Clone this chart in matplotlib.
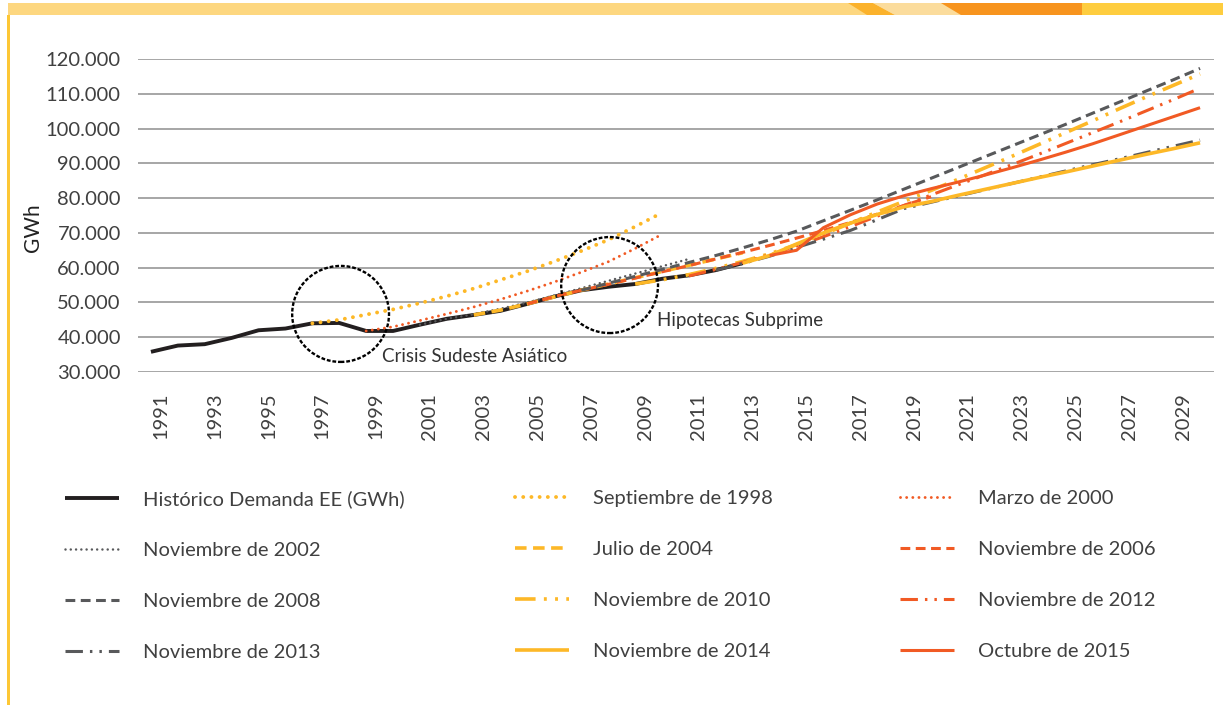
import numpy as np
import matplotlib.pyplot as plt
import matplotlib.transforms as mtransforms
from matplotlib.patches import Ellipse, Polygon, Rectangle

plt.rcParams['font.family'] = ['Lato', 'DejaVu Sans']

# datos (GWh) - cada serie con su año de inicio
historico_ini = 1991
historico = [35800, 37600, 38000, 39800, 42000, 42500, 44000, 44100, 41800, 41800,
             43600, 45300, 46400, 47600, 49600, 51700, 53500, 54500, 55300, 56800,
             57800, 59300, 61300]

sep1998_ini = 1997
sep1998 = [44000, 45000, 46500, 48000, 49800, 51800, 54000, 56500, 59000, 61800,
           64800, 68000, 71800, 75800]

mar2000_ini = 1999
mar2000 = [41800, 43000, 44800, 46700, 48700, 50900, 53300, 55900, 58700, 61700,
           65500, 69600]

nov2002_ini = 2001
nov2002 = [43600, 45300, 46600, 48200, 50000, 52000, 54100, 56200, 58300, 60400, 62500]

jul2004_ini = 2003
jul2004 = [46400, 47800, 49600, 51600, 53500, 55300, 57100, 58900, 60700, 62500, 64300]

nov2006_ini = 2005
nov2006 = [49600, 51700, 53500, 55200, 57000, 58800, 60600, 62500, 64400, 66400,
           68500, 70700, 73000, 75400, 77900, 80400]

nov2008_ini = 2007
nov2008 = [53500, 55500, 57500, 59500, 61500, 63500, 65700, 68000, 70500, 73500,
           76500, 79500, 82600, 85700, 88800, 91900, 95000, 98100, 101200, 104400,
           107600, 110800, 114000, 117300]

nov2010_ini = 2009
nov2010 = [55300, 56500, 58000, 59800, 61800, 64000, 66600, 69600, 72800, 76000,
           79100, 82200, 85400, 88700, 92000, 95400, 98800, 102200, 105700, 109100,
           112400, 115700]

nov2012_ini = 2011
nov2012 = [57600, 59500, 61500, 63700, 66200, 68900, 71800, 74800, 77900, 80900,
           83800, 86700, 89600, 92600, 95700, 98800, 101900, 105100, 108300, 111600]

nov2013_ini = 2012
nov2013 = [59300, 61200, 63300, 65800, 68200, 70700, 73800, 77000, 78800, 80600,
           82400, 84200, 86000, 87800, 89600, 91300, 93100, 94900, 96700]

nov2014_ini = 2013
nov2014 = [61300, 63500, 66800, 70000, 72800, 75300, 77500, 79000, 80800, 82500,
           84200, 85900, 87500, 89200, 90900, 92600, 94200, 95900]

oct2015_ini = 2014
oct2015 = [63500, 65000, 71500, 75200, 78300, 80700, 82700, 84600, 86600, 88700,
           90900, 93200, 95600, 98200, 100800, 103400, 106000]

anios_etiqueta = list(range(1991, 2030, 2))
y_ticks = [30000, 40000, 50000, 60000, 70000, 80000, 90000, 100000, 110000, 120000]

NEGRO = '#231f20'
GRIS = '#58595b'
AMARILLO = '#fdb827'
NARANJA = '#f15a24'
TEXTO = '#404040'

punto = (0, (0.01, 2.1))
guion = (0, (3.2, 1.8))
raya_pp = (0, (5.7, 2.3, 0.8, 2.3, 0.8, 2.3))

series = [
    ('Histórico Demanda EE (GWh)', historico_ini, historico, NEGRO, '-', 2.8),
    ('Septiembre de 1998', sep1998_ini, sep1998, AMARILLO, punto, 2.8),
    ('Marzo de 2000', mar2000_ini, mar2000, NARANJA, punto, 2.1),
    ('Noviembre de 2002', nov2002_ini, nov2002, GRIS, punto, 1.8),
    ('Julio de 2004', jul2004_ini, jul2004, AMARILLO, guion, 2.6),
    ('Noviembre de 2006', nov2006_ini, nov2006, NARANJA, guion, 2.2),
    ('Noviembre de 2008', nov2008_ini, nov2008, GRIS, guion, 2.2),
    ('Noviembre de 2010', nov2010_ini, nov2010, AMARILLO, raya_pp, 2.6),
    ('Noviembre de 2012', nov2012_ini, nov2012, NARANJA, raya_pp, 2.2),
    ('Noviembre de 2013', nov2013_ini, nov2013, GRIS, raya_pp, 2.2),
    ('Noviembre de 2014', nov2014_ini, nov2014, AMARILLO, '-', 2.6),
    ('Octubre de 2015', oct2015_ini, oct2015, NARANJA, '-', 2.2),
]

fig = plt.figure(figsize=(12.23, 7.05), dpi=100)
fig.patch.set_facecolor('white')

ax = fig.add_axes([137.5 / 1223, 1 - 372 / 705, 1076 / 1223, 313 / 705])
ax.set_xlim(1990.5, 2030.5)
ax.set_ylim(30000, 120000)

handles = {}
for nombre, ini, valores, color, estilo, ancho in series:
    x = np.arange(ini, ini + len(valores))
    cap = 'round' if estilo == punto else 'butt'
    ln, = ax.plot(x, valores, color=color, linestyle=estilo, linewidth=ancho,
                  dash_capstyle=cap, solid_capstyle='butt', label=nombre)
    handles[nombre] = ln

for s in ax.spines.values():
    s.set_visible(False)
ax.set_yticks(y_ticks)
ax.set_yticklabels([f'{v:,}'.replace(',', '.') for v in y_ticks])
ax.grid(axis='y', color='#a6a6a6', linewidth=1.4)
ax.set_axisbelow(True)
ax.tick_params(axis='y', length=0, pad=12, labelsize=14.5, labelcolor=TEXTO)
ax.set_xticks(anios_etiqueta)
ax.set_xticklabels([str(a) for a in anios_etiqueta], rotation=90, va='top', ha='center')
ax.tick_params(axis='x', length=0, pad=15, labelsize=14.5, labelcolor=TEXTO)
desp = mtransforms.ScaledTranslation(10 / 100, 0, fig.dpi_scale_trans)
for lab in ax.get_xticklabels():
    lab.set_transform(lab.get_transform() + desp)

ax.set_ylabel('GWh', fontsize=15, color='#222222')
ax.yaxis.set_label_coords(-0.088, 0.46)

# circulos de las crisis
for cx, cy in [(1998.05, 46700), (2008.05, 55000)]:
    ax.add_patch(Ellipse((cx, cy), 3.6, 27600, fill=False, edgecolor='black',
                         linestyle=(0, (1.6, 0.8)), linewidth=1.7, zorder=5))
ax.text(1999.6, 34600, 'Crisis Sudeste Asiático', fontsize=13.5, color='#333333',
        va='center', ha='left')
ax.text(2009.8, 44700, 'Hipotecas Subprime', fontsize=13.5, color='#333333',
        va='center', ha='left')

# leyenda en tres columnas
columnas = [
    (65, ['Histórico Demanda EE (GWh)', 'Noviembre de 2002', 'Noviembre de 2008', 'Noviembre de 2013']),
    (515, ['Septiembre de 1998', 'Julio de 2004', 'Noviembre de 2010', 'Noviembre de 2014']),
    (900, ['Marzo de 2000', 'Noviembre de 2006', 'Noviembre de 2012', 'Octubre de 2015']),
]
for xpix, nombres in columnas:
    fig.legend([handles[n] for n in nombres], nombres, loc='upper left',
               bbox_to_anchor=(xpix / 1223, 1 - 490 / 705), frameon=False,
               fontsize=14.5, handlelength=2.7, handletextpad=1.15,
               labelspacing=1.68, borderpad=0, borderaxespad=0,
               labelcolor=TEXTO)

# franja superior y linea lateral
def fpx(x, y):
    return (x / 1223, 1 - y / 705)

fig.add_artist(Rectangle(fpx(8, 15), 1215 / 1223, 12 / 705, transform=fig.transFigure,
                         facecolor='#fdd780', edgecolor='none'))
fig.add_artist(Polygon([fpx(848, 3), fpx(873, 3), fpx(895, 15), fpx(867, 15)],
                       transform=fig.transFigure, facecolor='#fbb22c', edgecolor='none'))
fig.add_artist(Polygon([fpx(873, 3), fpx(941, 3), fpx(961, 15), fpx(895, 15)],
                       transform=fig.transFigure, facecolor='#fbdc9c', edgecolor='none'))
fig.add_artist(Polygon([fpx(941, 3), fpx(1082, 3), fpx(1082, 15), fpx(961, 15)],
                       transform=fig.transFigure, facecolor='#f7941e', edgecolor='none'))
fig.add_artist(Rectangle(fpx(1082, 15), 141 / 1223, 12 / 705, transform=fig.transFigure,
                         facecolor='#fecd3f', edgecolor='none'))
fig.add_artist(Rectangle(fpx(7, 705), 2.5 / 1223, 690 / 705, transform=fig.transFigure,
                         facecolor='#fdc735', edgecolor='none'))

fig.savefig('out.png', dpi=100, facecolor='white')
